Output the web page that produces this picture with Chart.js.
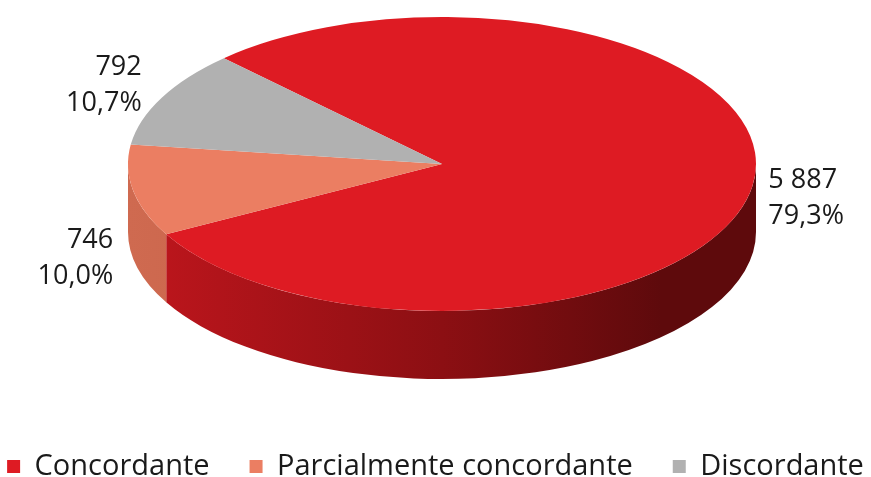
<!DOCTYPE html>
<html>
<head>
<meta charset="utf-8">
<script src="https://cdn.jsdelivr.net/npm/chart.js@4.4.0/dist/chart.umd.min.js"></script>
<style>
  html, body { margin: 0; padding: 0; background: #fff; }
  #wrap { width: 871px; height: 477px; }
</style>
</head>
<body>
<div id="wrap"><canvas id="pieChart" width="871" height="477"></canvas></div>
<script>
// categories and values
const categories = ['Concordante', 'Parcialmente concordante', 'Discordante'];
const counts = [5887, 746, 792];
const topColors = ['#de1b23', '#eb7e62', '#b1b1b1'];
const sideColors = [
    ['#c0161d', '#8c0f13', '#5e0a0c'],
    ['#cf6a50', '#c25d45', '#b35038'],
    ['#8e8e8e', '#7c7c7c', '#6c6c6c']
];

// where the tilted pie sits on the page
const view = { cx: 442, cy: 164, rx: 314, ry: 147, depth: 68 };

const total = counts.reduce((a, b) => a + b, 0);
const fmtCount = v => String(v).replace(/\B(?=(\d{3})+(?!\d))/g, ' ');
const fmtPct = v => (v / total * 100).toFixed(1).replace('.', ',');

// pieces of [a, b] that face the viewer (canvas angles 0..PI)
const frontParts = function (a, b) {
    const parts = [];
    for (let k = -2; k <= 2; k++) {
        const lo = Math.max(a, k * 2 * Math.PI);
        const hi = Math.min(b, k * 2 * Math.PI + Math.PI);
        if (hi > lo) parts.push([lo, hi]);
    }
    return parts;
}

const tiltPlugin = {
    id: 'tilt',
    beforeDatasetsDraw(chart) {
        const ctx = chart.ctx;
        const meta = chart.getDatasetMeta(0);
        const { cx, cy, rx, ry, depth } = view;
        meta.data.forEach((arc, i) => {
            const grad = ctx.createLinearGradient(cx - rx, 0, cx + rx, 0);
            grad.addColorStop(0, sideColors[i][0]);
            grad.addColorStop(0.5, sideColors[i][1]);
            grad.addColorStop(0.85, sideColors[i][2]);
            grad.addColorStop(1, sideColors[i][2]);
            frontParts(arc.startAngle, arc.endAngle).forEach(([a, b]) => {
                ctx.beginPath();
                ctx.ellipse(cx, cy, rx, ry, 0, a, b);
                ctx.lineTo(cx + rx * Math.cos(b), cy + depth + ry * Math.sin(b));
                ctx.ellipse(cx, cy + depth, rx, ry, 0, b, a, true);
                ctx.closePath();
                ctx.fillStyle = grad;
                ctx.fill();
            });
        });
        // squash the flat pie into the top face
        const first = meta.data[0];
        const R = first.outerRadius;
        ctx.save();
        ctx.translate(cx, cy);
        ctx.scale(rx / R, ry / R);
        ctx.translate(-first.x, -first.y);
    },
    afterDatasetsDraw(chart) {
        chart.ctx.restore();
    },
    afterDraw(chart) {
        const ctx = chart.ctx;
        const meta = chart.getDatasetMeta(0);
        const { cx, cy, rx, ry, depth } = view;
        ctx.save();
        ctx.font = '27px "Open Sans"';
        ctx.fillStyle = '#1a1a1a';
        ctx.textBaseline = 'middle';
        meta.data.forEach((arc, i) => {
            const mid = (arc.startAngle + arc.endAngle) / 2;
            const c = Math.cos(mid), s = Math.sin(mid);
            const px = cx + rx * c, py = cy + ry * s;
            let x, yc;
            if (c >= 0) {
                ctx.textAlign = 'left';
                x = px + 16; yc = py + 12;
            } else {
                ctx.textAlign = 'right';
                x = px - 20;
                yc = s > 0.1 ? py + depth : py - 12;
            }
            ctx.fillText(fmtCount(counts[i]), x, yc - 18);
            ctx.fillText(fmtPct(counts[i]) + '%', x, yc + 18);
        });
        ctx.restore();
    }
};

new Chart(document.getElementById('pieChart'), {
    type: 'pie',
    data: {
        labels: categories,
        datasets: [{
            data: counts,
            backgroundColor: topColors,
            borderWidth: 0,
            clip: false
        }]
    },
    options: {
        responsive: false,
        animation: false,
        events: [],
        rotation: -44,
        // negative sides let the one-row legend use the full width
        layout: { padding: { bottom: -14, left: -55, right: -55 } },
        plugins: {
            tooltip: { enabled: false },
            legend: {
                position: 'bottom',
                labels: {
                    boxWidth: 13,
                    boxHeight: 13,
                    padding: 40,
                    color: '#1a1a1a',
                    font: { family: '"Open Sans"', size: 29 }
                }
            }
        }
    },
    plugins: [tiltPlugin]
});
</script>
</body>
</html>
